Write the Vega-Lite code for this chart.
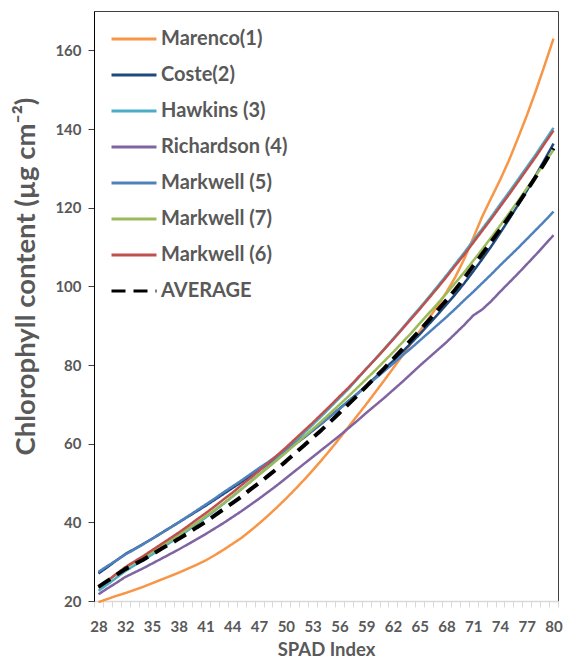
{
"$schema": "https://vega.github.io/schema/vega-lite/v6.json",
"width": 464, "height": 590,
"autosize": {"type": "none"},
"padding": {"left": 94, "top": 11, "right": 5, "bottom": 58},
"background": "white",
"config": {"font": "Lato", "view": {"stroke": "#404040", "strokeWidth": 1}},
"data": {"values": [
{"x":28,"s":"Marenco(1)","y":19.7},{"x":29,"s":"Marenco(1)","y":20.5},{"x":31,"s":"Marenco(1)","y":21.3},{"x":32,"s":"Marenco(1)","y":22.0},{"x":33,"s":"Marenco(1)","y":22.8},{"x":34,"s":"Marenco(1)","y":23.6},{"x":35,"s":"Marenco(1)","y":24.5},{"x":36,"s":"Marenco(1)","y":25.4},{"x":37,"s":"Marenco(1)","y":26.3},{"x":38,"s":"Marenco(1)","y":27.2},{"x":39,"s":"Marenco(1)","y":28.2},{"x":40,"s":"Marenco(1)","y":29.2},{"x":41,"s":"Marenco(1)","y":30.3},{"x":42,"s":"Marenco(1)","y":31.6},{"x":43,"s":"Marenco(1)","y":33.0},{"x":44,"s":"Marenco(1)","y":34.5},{"x":45,"s":"Marenco(1)","y":36.0},{"x":46,"s":"Marenco(1)","y":37.8},{"x":47,"s":"Marenco(1)","y":39.7},{"x":48,"s":"Marenco(1)","y":41.7},{"x":49,"s":"Marenco(1)","y":43.8},{"x":50,"s":"Marenco(1)","y":46.0},{"x":51,"s":"Marenco(1)","y":48.3},{"x":52,"s":"Marenco(1)","y":50.7},{"x":53,"s":"Marenco(1)","y":53.2},{"x":54,"s":"Marenco(1)","y":55.8},{"x":55,"s":"Marenco(1)","y":58.5},{"x":56,"s":"Marenco(1)","y":61.3},{"x":57,"s":"Marenco(1)","y":64.2},{"x":58,"s":"Marenco(1)","y":67.1},{"x":59,"s":"Marenco(1)","y":70.0},{"x":60,"s":"Marenco(1)","y":73.0},{"x":61,"s":"Marenco(1)","y":76.0},{"x":62,"s":"Marenco(1)","y":79.1},{"x":63,"s":"Marenco(1)","y":82.2},{"x":64,"s":"Marenco(1)","y":85.4},{"x":65,"s":"Marenco(1)","y":88.6},{"x":66,"s":"Marenco(1)","y":91.8},{"x":67,"s":"Marenco(1)","y":95.0},{"x":68,"s":"Marenco(1)","y":98.5},{"x":69,"s":"Marenco(1)","y":102.4},{"x":70,"s":"Marenco(1)","y":107.0},{"x":71,"s":"Marenco(1)","y":112.3},{"x":72,"s":"Marenco(1)","y":117.7},{"x":73,"s":"Marenco(1)","y":122.4},{"x":74,"s":"Marenco(1)","y":127.0},{"x":75,"s":"Marenco(1)","y":132.0},{"x":76,"s":"Marenco(1)","y":137.6},{"x":77,"s":"Marenco(1)","y":143.4},{"x":78,"s":"Marenco(1)","y":149.6},{"x":79,"s":"Marenco(1)","y":156.2},{"x":80,"s":"Marenco(1)","y":163.0},
{"x":28,"s":"Coste(2)","y":27.0},{"x":29,"s":"Coste(2)","y":28.6},{"x":31,"s":"Coste(2)","y":30.3},{"x":32,"s":"Coste(2)","y":31.9},{"x":33,"s":"Coste(2)","y":33.2},{"x":34,"s":"Coste(2)","y":34.5},{"x":35,"s":"Coste(2)","y":35.8},{"x":36,"s":"Coste(2)","y":37.2},{"x":37,"s":"Coste(2)","y":38.6},{"x":38,"s":"Coste(2)","y":40.0},{"x":39,"s":"Coste(2)","y":41.4},{"x":40,"s":"Coste(2)","y":42.8},{"x":41,"s":"Coste(2)","y":44.2},{"x":42,"s":"Coste(2)","y":45.7},{"x":43,"s":"Coste(2)","y":47.2},{"x":44,"s":"Coste(2)","y":48.7},{"x":45,"s":"Coste(2)","y":50.2},{"x":46,"s":"Coste(2)","y":51.7},{"x":47,"s":"Coste(2)","y":53.3},{"x":48,"s":"Coste(2)","y":54.9},{"x":49,"s":"Coste(2)","y":56.5},{"x":50,"s":"Coste(2)","y":58.1},{"x":51,"s":"Coste(2)","y":59.8},{"x":52,"s":"Coste(2)","y":61.5},{"x":53,"s":"Coste(2)","y":63.3},{"x":54,"s":"Coste(2)","y":65.1},{"x":55,"s":"Coste(2)","y":67.0},{"x":56,"s":"Coste(2)","y":68.9},{"x":57,"s":"Coste(2)","y":70.8},{"x":58,"s":"Coste(2)","y":72.7},{"x":59,"s":"Coste(2)","y":74.7},{"x":60,"s":"Coste(2)","y":76.8},{"x":61,"s":"Coste(2)","y":78.9},{"x":62,"s":"Coste(2)","y":81.0},{"x":63,"s":"Coste(2)","y":83.2},{"x":64,"s":"Coste(2)","y":85.5},{"x":65,"s":"Coste(2)","y":87.8},{"x":66,"s":"Coste(2)","y":90.3},{"x":67,"s":"Coste(2)","y":92.8},{"x":68,"s":"Coste(2)","y":95.4},{"x":69,"s":"Coste(2)","y":98.0},{"x":70,"s":"Coste(2)","y":100.8},{"x":71,"s":"Coste(2)","y":103.8},{"x":72,"s":"Coste(2)","y":106.9},{"x":73,"s":"Coste(2)","y":110.1},{"x":74,"s":"Coste(2)","y":113.5},{"x":75,"s":"Coste(2)","y":117.0},{"x":76,"s":"Coste(2)","y":120.6},{"x":77,"s":"Coste(2)","y":124.3},{"x":78,"s":"Coste(2)","y":128.2},{"x":79,"s":"Coste(2)","y":132.2},{"x":80,"s":"Coste(2)","y":136.3},
{"x":28,"s":"Hawkins (3)","y":22.6},{"x":29,"s":"Hawkins (3)","y":24.2},{"x":31,"s":"Hawkins (3)","y":25.9},{"x":32,"s":"Hawkins (3)","y":27.6},{"x":33,"s":"Hawkins (3)","y":29.0},{"x":34,"s":"Hawkins (3)","y":30.3},{"x":35,"s":"Hawkins (3)","y":31.8},{"x":36,"s":"Hawkins (3)","y":33.3},{"x":37,"s":"Hawkins (3)","y":34.8},{"x":38,"s":"Hawkins (3)","y":36.3},{"x":39,"s":"Hawkins (3)","y":37.9},{"x":40,"s":"Hawkins (3)","y":39.6},{"x":41,"s":"Hawkins (3)","y":41.2},{"x":42,"s":"Hawkins (3)","y":42.9},{"x":43,"s":"Hawkins (3)","y":44.7},{"x":44,"s":"Hawkins (3)","y":46.5},{"x":45,"s":"Hawkins (3)","y":48.4},{"x":46,"s":"Hawkins (3)","y":50.3},{"x":47,"s":"Hawkins (3)","y":52.2},{"x":48,"s":"Hawkins (3)","y":54.1},{"x":49,"s":"Hawkins (3)","y":56.1},{"x":50,"s":"Hawkins (3)","y":58.2},{"x":51,"s":"Hawkins (3)","y":60.4},{"x":52,"s":"Hawkins (3)","y":62.6},{"x":53,"s":"Hawkins (3)","y":64.8},{"x":54,"s":"Hawkins (3)","y":67.0},{"x":55,"s":"Hawkins (3)","y":69.3},{"x":56,"s":"Hawkins (3)","y":71.6},{"x":57,"s":"Hawkins (3)","y":73.9},{"x":58,"s":"Hawkins (3)","y":76.4},{"x":59,"s":"Hawkins (3)","y":79.0},{"x":60,"s":"Hawkins (3)","y":81.5},{"x":61,"s":"Hawkins (3)","y":84.0},{"x":62,"s":"Hawkins (3)","y":86.6},{"x":63,"s":"Hawkins (3)","y":89.2},{"x":64,"s":"Hawkins (3)","y":91.9},{"x":65,"s":"Hawkins (3)","y":94.5},{"x":66,"s":"Hawkins (3)","y":97.2},{"x":67,"s":"Hawkins (3)","y":100.0},{"x":68,"s":"Hawkins (3)","y":102.8},{"x":69,"s":"Hawkins (3)","y":105.7},{"x":70,"s":"Hawkins (3)","y":108.6},{"x":71,"s":"Hawkins (3)","y":111.6},{"x":72,"s":"Hawkins (3)","y":114.6},{"x":73,"s":"Hawkins (3)","y":117.6},{"x":74,"s":"Hawkins (3)","y":120.8},{"x":75,"s":"Hawkins (3)","y":123.9},{"x":76,"s":"Hawkins (3)","y":127.1},{"x":77,"s":"Hawkins (3)","y":130.3},{"x":78,"s":"Hawkins (3)","y":133.5},{"x":79,"s":"Hawkins (3)","y":136.9},{"x":80,"s":"Hawkins (3)","y":140.3},
{"x":28,"s":"Richardson (4)","y":21.7},{"x":29,"s":"Richardson (4)","y":23.2},{"x":31,"s":"Richardson (4)","y":24.6},{"x":32,"s":"Richardson (4)","y":26.1},{"x":33,"s":"Richardson (4)","y":27.2},{"x":34,"s":"Richardson (4)","y":28.3},{"x":35,"s":"Richardson (4)","y":29.5},{"x":36,"s":"Richardson (4)","y":30.7},{"x":37,"s":"Richardson (4)","y":31.9},{"x":38,"s":"Richardson (4)","y":33.1},{"x":39,"s":"Richardson (4)","y":34.4},{"x":40,"s":"Richardson (4)","y":35.7},{"x":41,"s":"Richardson (4)","y":37.0},{"x":42,"s":"Richardson (4)","y":38.4},{"x":43,"s":"Richardson (4)","y":39.8},{"x":44,"s":"Richardson (4)","y":41.3},{"x":45,"s":"Richardson (4)","y":42.8},{"x":46,"s":"Richardson (4)","y":44.4},{"x":47,"s":"Richardson (4)","y":46.0},{"x":48,"s":"Richardson (4)","y":47.7},{"x":49,"s":"Richardson (4)","y":49.4},{"x":50,"s":"Richardson (4)","y":51.2},{"x":51,"s":"Richardson (4)","y":53.0},{"x":52,"s":"Richardson (4)","y":54.8},{"x":53,"s":"Richardson (4)","y":56.6},{"x":54,"s":"Richardson (4)","y":58.4},{"x":55,"s":"Richardson (4)","y":60.2},{"x":56,"s":"Richardson (4)","y":62.0},{"x":57,"s":"Richardson (4)","y":63.9},{"x":58,"s":"Richardson (4)","y":65.8},{"x":59,"s":"Richardson (4)","y":67.8},{"x":60,"s":"Richardson (4)","y":69.7},{"x":61,"s":"Richardson (4)","y":71.6},{"x":62,"s":"Richardson (4)","y":73.6},{"x":63,"s":"Richardson (4)","y":75.6},{"x":64,"s":"Richardson (4)","y":77.7},{"x":65,"s":"Richardson (4)","y":79.8},{"x":66,"s":"Richardson (4)","y":81.8},{"x":67,"s":"Richardson (4)","y":83.8},{"x":68,"s":"Richardson (4)","y":85.8},{"x":69,"s":"Richardson (4)","y":88.0},{"x":70,"s":"Richardson (4)","y":90.2},{"x":71,"s":"Richardson (4)","y":92.6},{"x":72,"s":"Richardson (4)","y":94.1},{"x":73,"s":"Richardson (4)","y":96.2},{"x":74,"s":"Richardson (4)","y":98.6},{"x":75,"s":"Richardson (4)","y":100.9},{"x":76,"s":"Richardson (4)","y":103.2},{"x":77,"s":"Richardson (4)","y":105.6},{"x":78,"s":"Richardson (4)","y":108.0},{"x":79,"s":"Richardson (4)","y":110.5},{"x":80,"s":"Richardson (4)","y":113.0},
{"x":28,"s":"Markwell (5)","y":27.4},{"x":29,"s":"Markwell (5)","y":28.9},{"x":31,"s":"Markwell (5)","y":30.3},{"x":32,"s":"Markwell (5)","y":31.8},{"x":33,"s":"Markwell (5)","y":33.1},{"x":34,"s":"Markwell (5)","y":34.4},{"x":35,"s":"Markwell (5)","y":35.8},{"x":36,"s":"Markwell (5)","y":37.2},{"x":37,"s":"Markwell (5)","y":38.6},{"x":38,"s":"Markwell (5)","y":40.0},{"x":39,"s":"Markwell (5)","y":41.5},{"x":40,"s":"Markwell (5)","y":43.0},{"x":41,"s":"Markwell (5)","y":44.5},{"x":42,"s":"Markwell (5)","y":46.0},{"x":43,"s":"Markwell (5)","y":47.6},{"x":44,"s":"Markwell (5)","y":49.1},{"x":45,"s":"Markwell (5)","y":50.6},{"x":46,"s":"Markwell (5)","y":52.2},{"x":47,"s":"Markwell (5)","y":53.8},{"x":48,"s":"Markwell (5)","y":55.3},{"x":49,"s":"Markwell (5)","y":56.9},{"x":50,"s":"Markwell (5)","y":58.5},{"x":51,"s":"Markwell (5)","y":60.1},{"x":52,"s":"Markwell (5)","y":61.7},{"x":53,"s":"Markwell (5)","y":63.4},{"x":54,"s":"Markwell (5)","y":65.2},{"x":55,"s":"Markwell (5)","y":67.0},{"x":56,"s":"Markwell (5)","y":68.8},{"x":57,"s":"Markwell (5)","y":70.7},{"x":58,"s":"Markwell (5)","y":72.6},{"x":59,"s":"Markwell (5)","y":74.6},{"x":60,"s":"Markwell (5)","y":76.5},{"x":61,"s":"Markwell (5)","y":78.4},{"x":62,"s":"Markwell (5)","y":80.3},{"x":63,"s":"Markwell (5)","y":82.3},{"x":64,"s":"Markwell (5)","y":84.2},{"x":65,"s":"Markwell (5)","y":86.2},{"x":66,"s":"Markwell (5)","y":88.2},{"x":67,"s":"Markwell (5)","y":90.2},{"x":68,"s":"Markwell (5)","y":92.2},{"x":69,"s":"Markwell (5)","y":94.3},{"x":70,"s":"Markwell (5)","y":96.5},{"x":71,"s":"Markwell (5)","y":98.6},{"x":72,"s":"Markwell (5)","y":100.8},{"x":73,"s":"Markwell (5)","y":103.0},{"x":74,"s":"Markwell (5)","y":105.3},{"x":75,"s":"Markwell (5)","y":107.5},{"x":76,"s":"Markwell (5)","y":109.7},{"x":77,"s":"Markwell (5)","y":112.0},{"x":78,"s":"Markwell (5)","y":114.3},{"x":79,"s":"Markwell (5)","y":116.6},{"x":80,"s":"Markwell (5)","y":119.0},
{"x":28,"s":"Markwell (7)","y":23.5},{"x":29,"s":"Markwell (7)","y":25.1},{"x":31,"s":"Markwell (7)","y":26.8},{"x":32,"s":"Markwell (7)","y":28.4},{"x":33,"s":"Markwell (7)","y":29.7},{"x":34,"s":"Markwell (7)","y":31.0},{"x":35,"s":"Markwell (7)","y":32.4},{"x":36,"s":"Markwell (7)","y":33.9},{"x":37,"s":"Markwell (7)","y":35.3},{"x":38,"s":"Markwell (7)","y":36.8},{"x":39,"s":"Markwell (7)","y":38.3},{"x":40,"s":"Markwell (7)","y":39.9},{"x":41,"s":"Markwell (7)","y":41.5},{"x":42,"s":"Markwell (7)","y":43.1},{"x":43,"s":"Markwell (7)","y":44.8},{"x":44,"s":"Markwell (7)","y":46.6},{"x":45,"s":"Markwell (7)","y":48.4},{"x":46,"s":"Markwell (7)","y":50.2},{"x":47,"s":"Markwell (7)","y":52.1},{"x":48,"s":"Markwell (7)","y":53.9},{"x":49,"s":"Markwell (7)","y":55.8},{"x":50,"s":"Markwell (7)","y":57.7},{"x":51,"s":"Markwell (7)","y":59.7},{"x":52,"s":"Markwell (7)","y":61.7},{"x":53,"s":"Markwell (7)","y":63.7},{"x":54,"s":"Markwell (7)","y":65.7},{"x":55,"s":"Markwell (7)","y":67.8},{"x":56,"s":"Markwell (7)","y":69.9},{"x":57,"s":"Markwell (7)","y":72.0},{"x":58,"s":"Markwell (7)","y":74.2},{"x":59,"s":"Markwell (7)","y":76.4},{"x":60,"s":"Markwell (7)","y":78.6},{"x":61,"s":"Markwell (7)","y":80.9},{"x":62,"s":"Markwell (7)","y":83.2},{"x":63,"s":"Markwell (7)","y":85.6},{"x":64,"s":"Markwell (7)","y":88.0},{"x":65,"s":"Markwell (7)","y":90.6},{"x":66,"s":"Markwell (7)","y":93.1},{"x":67,"s":"Markwell (7)","y":95.6},{"x":68,"s":"Markwell (7)","y":98.2},{"x":69,"s":"Markwell (7)","y":100.9},{"x":70,"s":"Markwell (7)","y":103.6},{"x":71,"s":"Markwell (7)","y":106.5},{"x":72,"s":"Markwell (7)","y":109.4},{"x":73,"s":"Markwell (7)","y":112.4},{"x":74,"s":"Markwell (7)","y":115.4},{"x":75,"s":"Markwell (7)","y":118.5},{"x":76,"s":"Markwell (7)","y":121.6},{"x":77,"s":"Markwell (7)","y":124.9},{"x":78,"s":"Markwell (7)","y":128.1},{"x":79,"s":"Markwell (7)","y":131.4},{"x":80,"s":"Markwell (7)","y":134.7},
{"x":28,"s":"Markwell (6)","y":23.4},{"x":29,"s":"Markwell (6)","y":25.1},{"x":31,"s":"Markwell (6)","y":26.9},{"x":32,"s":"Markwell (6)","y":28.6},{"x":33,"s":"Markwell (6)","y":30.0},{"x":34,"s":"Markwell (6)","y":31.4},{"x":35,"s":"Markwell (6)","y":32.9},{"x":36,"s":"Markwell (6)","y":34.4},{"x":37,"s":"Markwell (6)","y":35.9},{"x":38,"s":"Markwell (6)","y":37.4},{"x":39,"s":"Markwell (6)","y":39.0},{"x":40,"s":"Markwell (6)","y":40.7},{"x":41,"s":"Markwell (6)","y":42.3},{"x":42,"s":"Markwell (6)","y":44.0},{"x":43,"s":"Markwell (6)","y":45.8},{"x":44,"s":"Markwell (6)","y":47.5},{"x":45,"s":"Markwell (6)","y":49.4},{"x":46,"s":"Markwell (6)","y":51.2},{"x":47,"s":"Markwell (6)","y":53.1},{"x":48,"s":"Markwell (6)","y":55.0},{"x":49,"s":"Markwell (6)","y":57.0},{"x":50,"s":"Markwell (6)","y":59.0},{"x":51,"s":"Markwell (6)","y":61.1},{"x":52,"s":"Markwell (6)","y":63.2},{"x":53,"s":"Markwell (6)","y":65.3},{"x":54,"s":"Markwell (6)","y":67.5},{"x":55,"s":"Markwell (6)","y":69.7},{"x":56,"s":"Markwell (6)","y":72.0},{"x":57,"s":"Markwell (6)","y":74.2},{"x":58,"s":"Markwell (6)","y":76.6},{"x":59,"s":"Markwell (6)","y":79.0},{"x":60,"s":"Markwell (6)","y":81.4},{"x":61,"s":"Markwell (6)","y":83.9},{"x":62,"s":"Markwell (6)","y":86.4},{"x":63,"s":"Markwell (6)","y":89.0},{"x":64,"s":"Markwell (6)","y":91.6},{"x":65,"s":"Markwell (6)","y":94.2},{"x":66,"s":"Markwell (6)","y":96.9},{"x":67,"s":"Markwell (6)","y":99.6},{"x":68,"s":"Markwell (6)","y":102.4},{"x":69,"s":"Markwell (6)","y":105.3},{"x":70,"s":"Markwell (6)","y":108.1},{"x":71,"s":"Markwell (6)","y":111.1},{"x":72,"s":"Markwell (6)","y":114.1},{"x":73,"s":"Markwell (6)","y":117.1},{"x":74,"s":"Markwell (6)","y":120.2},{"x":75,"s":"Markwell (6)","y":123.3},{"x":76,"s":"Markwell (6)","y":126.5},{"x":77,"s":"Markwell (6)","y":129.7},{"x":78,"s":"Markwell (6)","y":132.9},{"x":79,"s":"Markwell (6)","y":136.3},{"x":80,"s":"Markwell (6)","y":139.6},
{"x":28,"s":"AVERAGE","y":23.6},{"x":29,"s":"AVERAGE","y":25.1},{"x":31,"s":"AVERAGE","y":26.6},{"x":32,"s":"AVERAGE","y":28.1},{"x":33,"s":"AVERAGE","y":29.3},{"x":34,"s":"AVERAGE","y":30.5},{"x":35,"s":"AVERAGE","y":31.8},{"x":36,"s":"AVERAGE","y":33.2},{"x":37,"s":"AVERAGE","y":34.5},{"x":38,"s":"AVERAGE","y":35.8},{"x":39,"s":"AVERAGE","y":37.2},{"x":40,"s":"AVERAGE","y":38.7},{"x":41,"s":"AVERAGE","y":40.1},{"x":42,"s":"AVERAGE","y":41.7},{"x":43,"s":"AVERAGE","y":43.3},{"x":44,"s":"AVERAGE","y":44.9},{"x":45,"s":"AVERAGE","y":46.5},{"x":46,"s":"AVERAGE","y":48.3},{"x":47,"s":"AVERAGE","y":50.0},{"x":48,"s":"AVERAGE","y":51.8},{"x":49,"s":"AVERAGE","y":53.6},{"x":50,"s":"AVERAGE","y":55.5},{"x":51,"s":"AVERAGE","y":57.5},{"x":52,"s":"AVERAGE","y":59.5},{"x":53,"s":"AVERAGE","y":61.5},{"x":54,"s":"AVERAGE","y":63.5},{"x":55,"s":"AVERAGE","y":65.6},{"x":56,"s":"AVERAGE","y":67.8},{"x":57,"s":"AVERAGE","y":70.0},{"x":58,"s":"AVERAGE","y":72.2},{"x":59,"s":"AVERAGE","y":74.5},{"x":60,"s":"AVERAGE","y":76.8},{"x":61,"s":"AVERAGE","y":79.1},{"x":62,"s":"AVERAGE","y":81.5},{"x":63,"s":"AVERAGE","y":83.9},{"x":64,"s":"AVERAGE","y":86.3},{"x":65,"s":"AVERAGE","y":88.8},{"x":66,"s":"AVERAGE","y":91.3},{"x":67,"s":"AVERAGE","y":93.9},{"x":68,"s":"AVERAGE","y":96.5},{"x":69,"s":"AVERAGE","y":99.2},{"x":70,"s":"AVERAGE","y":102.1},{"x":71,"s":"AVERAGE","y":105.2},{"x":72,"s":"AVERAGE","y":108.2},{"x":73,"s":"AVERAGE","y":111.3},{"x":74,"s":"AVERAGE","y":114.4},{"x":75,"s":"AVERAGE","y":117.6},{"x":76,"s":"AVERAGE","y":120.9},{"x":77,"s":"AVERAGE","y":124.3},{"x":78,"s":"AVERAGE","y":127.8},{"x":79,"s":"AVERAGE","y":131.4},{"x":80,"s":"AVERAGE","y":135.1}
]},
"encoding": {
  "x": {"field": "x", "type": "ordinal", "bandPosition": 0.5,
    "scale": {"type": "band", "paddingInner": 0, "paddingOuter": 0},
    "axis": {"title": "SPAD Index", "labelAngle": 0, "labelOverlap": false, "labelBound": false,
      "labelExpr": "indexof([28,32,35,38,41,44,47,50,53,56,59,62,65,68,71,74,77,80], datum.value) >= 0 ? datum.label : ''",
      "tickBand": "extent", "domainColor": "#d9d9d9", "domainWidth": 1.5, "tickColor": "#d9d9d9", "tickSize": 6,
      "labelFontSize": 15, "labelFontWeight": "bold", "labelColor": "#595959", "labelPadding": 12,
      "titleFontSize": 18.5, "titleFontWeight": "bold", "titleColor": "#595959", "titlePadding": 6, "grid": false}},
  "y": {"field": "y", "type": "quantitative",
    "scale": {"domain": [20, 170], "nice": false, "zero": false},
    "axis": {"values": [20, 40, 60, 80, 100, 120, 140, 160], "title": "Chlorophyll content (µg cm⁻²)",
      "domainColor": "#000000", "tickColor": "#404040", "tickSize": 6,
      "labelFontSize": 15, "labelFontWeight": "bold", "labelColor": "#595959", "labelPadding": 7,
      "titleFontSize": 27.5, "titleFontWeight": "bold", "titleColor": "#595959", "titlePadding": 14, "titleY": 265, "grid": false}},
  "color": {"field": "s", "type": "nominal",
    "scale": {"domain": ["Marenco(1)", "Coste(2)", "Hawkins (3)", "Richardson (4)", "Markwell (5)", "Markwell (7)", "Markwell (6)", "AVERAGE"],
      "range": ["#F79646", "#1F497D", "#4BACC6", "#8064A2", "#4F81BD", "#9BBB59", "#C0504D", "#000000"]},
    "legend": {"orient": "none", "legendX": 16, "legendY": 4, "title": null, "symbolType": "stroke", "symbolSize": 2025,
      "symbolStrokeWidth": 3, "labelFontSize": 20, "labelFontWeight": "bold", "labelColor": "#595959", "rowPadding": 2, "labelOffset": 3}},
  "strokeDash": {"field": "s", "type": "nominal",
    "scale": {"domain": ["Marenco(1)", "Coste(2)", "Hawkins (3)", "Richardson (4)", "Markwell (5)", "Markwell (7)", "Markwell (6)", "AVERAGE"],
      "range": [[1, 0], [1, 0], [1, 0], [1, 0], [1, 0], [1, 0], [1, 0], [14, 8]]},
    "legend": {"orient": "none", "legendX": 16, "legendY": 4, "title": null, "symbolType": "stroke", "symbolSize": 2025,
      "symbolStrokeWidth": 3, "labelFontSize": 20, "labelFontWeight": "bold", "labelColor": "#595959", "rowPadding": 2, "labelOffset": 3}}
},
"layer": [
  {"transform": [{"filter": "datum.s !== 'AVERAGE'"}], "mark": {"type": "line", "strokeWidth": 2.5, "strokeJoin": "round"}},
  {"transform": [{"filter": "datum.s === 'AVERAGE'"}], "mark": {"type": "line", "strokeWidth": 4, "strokeJoin": "round"}}
]
}
